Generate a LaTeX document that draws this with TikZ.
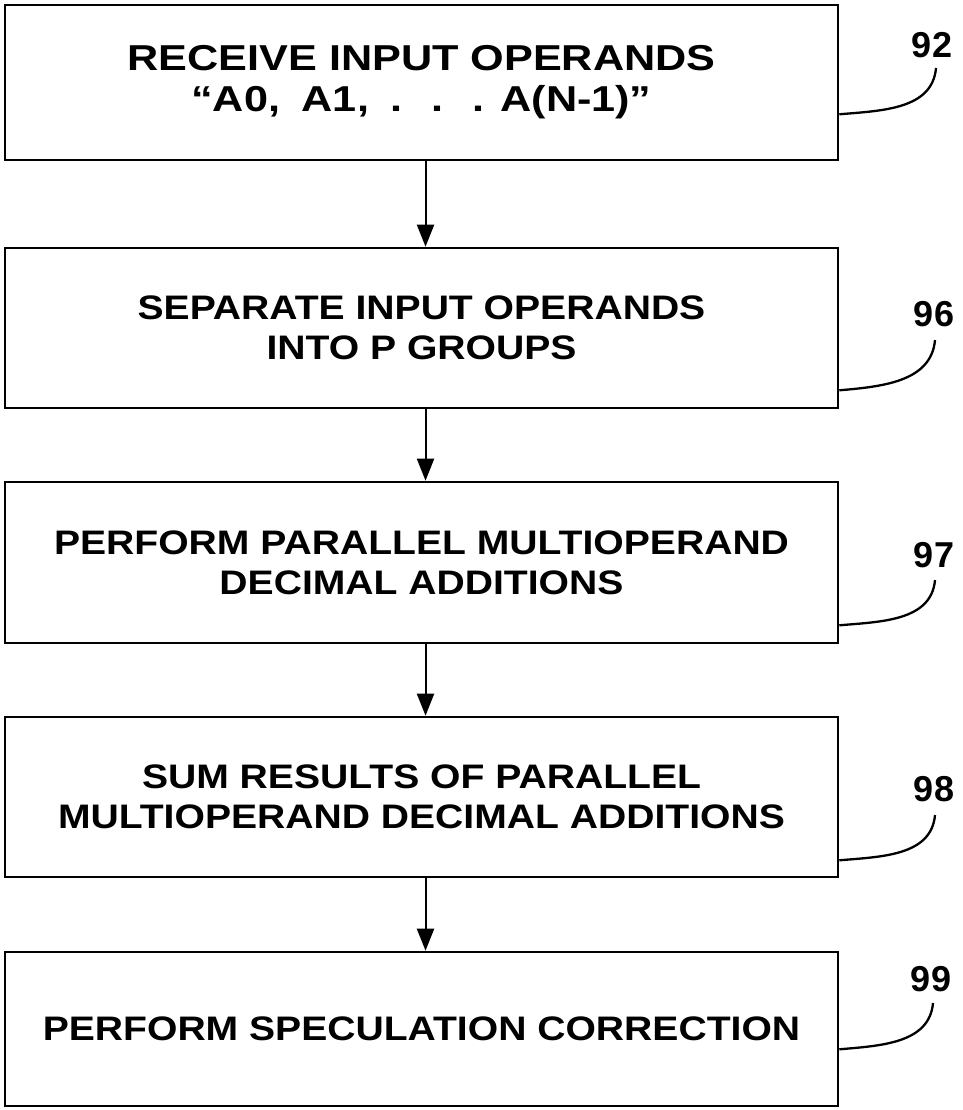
\documentclass[tikz,border=0pt]{standalone}
\usepackage{fontspec}
\newfontfamily\stepfont{Liberation Sans}[FakeStretch=1.15]
\newfontfamily\widefont{Liberation Sans}[FakeStretch=1.2]
\newfontfamily\numfont{Liberation Sans}
\usetikzlibrary{arrows.meta}
\begin{document}
\begin{tikzpicture}[x=1pt,y=-1pt,
  stepbox/.style={draw, line width=2.6pt, minimum width=833pt, inner sep=0pt,
    align=center, font=\stepfont\fontsize{34}{40}\selectfont\bfseries},
  firstbox/.style={stepbox, font=\widefont\fontsize{36}{41}\selectfont\bfseries},
  flow/.style={line width=2pt, -{Triangle[length=22pt,width=17pt]}},
  reflabel/.style={font=\numfont\fontsize{36}{40}\selectfont\bfseries, inner sep=0pt},
  leader/.style={line width=2.3pt}]
\useasboundingbox (0,0) rectangle (962,1110);

% process steps
\node[firstbox, minimum height=155pt] (b1) at (421.5,82.5)
  {RECEIVE INPUT OPERANDS\\“A0,\hspace{0.6em}A1,\hspace{0.6em}.\hspace{0.8em}.\hspace{0.8em}.\hspace{0.45em}A(N-1)”};
\node[stepbox, minimum height=160pt] (b2) at (421.5,328)
  {SEPARATE INPUT OPERANDS\\INTO P GROUPS};
\node[stepbox, minimum height=161pt] (b3) at (421.5,562.5)
  {PERFORM PARALLEL MULTIOPERAND\\DECIMAL ADDITIONS};
\node[stepbox, minimum height=160pt] (b4) at (421.5,797)
  {SUM RESULTS OF PARALLEL\\MULTIOPERAND DECIMAL ADDITIONS};
\node[stepbox, minimum height=154pt] (b5) at (421.5,1029)
  {PERFORM SPECULATION CORRECTION};

% flow arrows
\draw[flow] ([xshift=4pt]b1.south) -- ([xshift=4pt]b2.north);
\draw[flow] ([xshift=4pt]b2.south) -- ([xshift=4pt]b3.north);
\draw[flow] ([xshift=4pt]b3.south) -- ([xshift=4pt]b4.north);
\draw[flow] ([xshift=4pt]b4.south) -- ([xshift=4pt]b5.north);

% reference numerals with their leader lines
\node[reflabel] (r92) at (932,45) {92};
\node[reflabel] (r96) at (934,314) {96};
\node[reflabel] (r97) at (934,555) {97};
\node[reflabel] (r98) at (934,789) {98};
\node[reflabel] (r99) at (931,979) {99};

\coordinate (e92) at (936,68);
\coordinate (e96) at (935,340);
\coordinate (e97) at (935,580);
\coordinate (e98) at (935,815);
\coordinate (e99) at (933,1003);

\draw[leader] ([yshift=47pt]b1.south east) to[out=5,in=-95] (e92);
\draw[leader] ([yshift=19pt]b2.south east) to[out=5,in=-95] (e96);
\draw[leader] ([yshift=19pt]b3.south east) to[out=5,in=-95] (e97);
\draw[leader] ([yshift=18pt]b4.south east) to[out=5,in=-95] (e98);
\draw[leader] ([yshift=58pt]b5.south east) to[out=5,in=-95] (e99);
\end{tikzpicture}
\end{document}
